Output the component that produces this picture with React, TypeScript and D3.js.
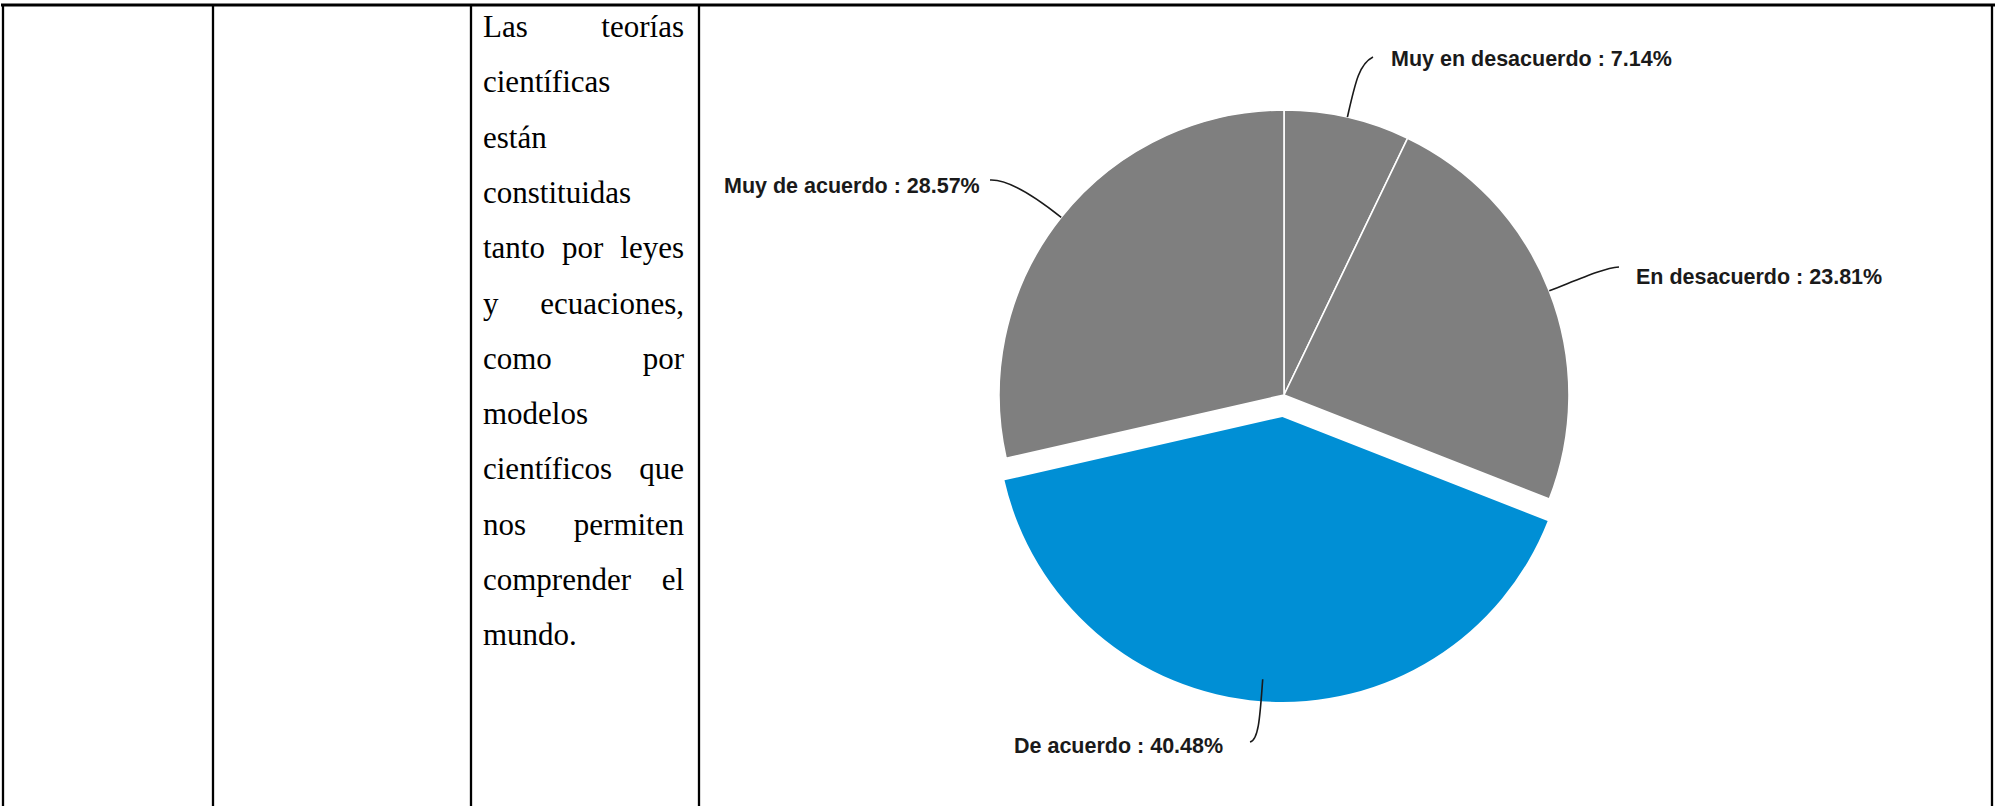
import React from 'react';
import * as d3 from 'd3';

// ---- data ----
const categories = ['Muy en desacuerdo', 'En desacuerdo', 'De acuerdo', 'Muy de acuerdo'];
const percentages = [7.14, 23.81, 40.48, 28.57];
const sliceColors = ['#7f7f7f', '#7f7f7f', '#008fd5', '#7f7f7f'];
const explodedSlice = 'De acuerdo';

const statementLines = [
  'Las teorías',
  'científicas',
  'están',
  'constituidas',
  'tanto por leyes',
  'y ecuaciones,',
  'como por',
  'modelos',
  'científicos que',
  'nos permiten',
  'comprender el',
  'mundo.',
];
const justifiedLines = [true, false, false, false, true, true, true, false, true, true, true, false];

// ---- layout (positions for label annotations, not data) ----
const labelLayout = [
  { end: [1373, 57], ctrl: [1359, 64], tx: 1391, ty: 66, anchor: 'start' },
  { end: [1619, 267], ctrl: [1604, 268], tx: 1636, ty: 284, anchor: 'start' },
  { end: [1250, 742], ctrl: [1259, 740], tx: 1014, ty: 753, anchor: 'start' },
  { end: [990, 180], ctrl: [1008, 179], tx: 724, ty: 193, anchor: 'start' },
];

const tableVerticals = [3, 213, 471, 699, 1992];

function measure(text: string, font: string): number {
  const c = document.createElement('canvas');
  const ctx = c.getContext('2d');
  if (!ctx) return text.length * 14;
  ctx.font = font;
  return ctx.measureText(text).width;
}

export default function App() {
  const W = 1998;
  const H = 806;
  const cx = 1284;
  const cy = 395;
  const R = 285;
  const explode = 22;

  const pie = d3
    .pie<number>()
    .sort(null)
    .value((d) => d)
    .startAngle(0)
    .endAngle(2 * Math.PI);
  const arcs = pie(percentages);
  const arcGen = d3.arc<d3.PieArcDatum<number>>().innerRadius(0).outerRadius(R);

  // text column
  const colFontSize = 31;
  const colFont = `${colFontSize}px 'Liberation Serif'`;
  const colLeft = 483;
  const colRight = 684;
  const firstBaseline = 37;
  const lineStep = 55.3;

  const lineEls = statementLines.map((line, i) => {
    const y = firstBaseline + i * lineStep;
    const words = line.split(' ');
    if (!justifiedLines[i] || words.length < 2) {
      return (
        <text key={i} x={colLeft} y={y} fontFamily="'Liberation Serif', 'Times New Roman', serif" fontSize={colFontSize} fill="#000">
          {line}
        </text>
      );
    }
    const widths = words.map((w) => measure(w, colFont));
    const total = widths.reduce((a, b) => a + b, 0);
    const gap = (colRight - colLeft - total) / (words.length - 1);
    let x = colLeft;
    return (
      <g key={i}>
        {words.map((w, j) => {
          const el = (
            <text key={j} x={x} y={y} fontFamily="'Liberation Serif', 'Times New Roman', serif" fontSize={colFontSize} fill="#000">
              {w}
            </text>
          );
          x += widths[j] + gap;
          return el;
        })}
      </g>
    );
  });

  return (
    <svg
      width={W}
      height={H}
      viewBox={`0 0 ${W} ${H}`}
      style={{ position: 'absolute', left: 0, top: 0, display: 'block', background: '#fff' }}
    >
      {/* table grid */}
      <line x1={1} x2={1995} y1={5} y2={5} stroke="#000" strokeWidth={2.8} />
      {tableVerticals.map((x, i) => (
        <line key={i} x1={x} x2={x} y1={4} y2={H} stroke="#000" strokeWidth={2.3} />
      ))}

      {lineEls}

      {/* pie */}
      <g>
        {arcs.map((a, i) => {
          const mid = (a.startAngle + a.endAngle) / 2;
          const isExploded = categories[i] === explodedSlice;
          const dx = isExploded ? Math.sin(mid) * explode : 0;
          const dy = isExploded ? -Math.cos(mid) * explode : 0;
          return (
            <path
              key={i}
              d={arcGen(a) || ''}
              transform={`translate(${cx + dx},${cy + dy})`}
              fill={sliceColors[i]}
              stroke={isExploded ? 'none' : '#fff'}
              strokeWidth={1.6}
            />
          );
        })}
      </g>

      {/* leaders and labels */}
      {arcs.map((a, i) => {
        const mid = (a.startAngle + a.endAngle) / 2;
        const sx = Math.sin(mid);
        const sy = -Math.cos(mid);
        const p0 = [cx + R * sx, cy + R * sy];
        const p1 = [cx + (R + 35) * sx, cy + (R + 35) * sy];
        const L = labelLayout[i];
        const path = d3.path();
        path.moveTo(p0[0], p0[1]);
        path.bezierCurveTo(p1[0], p1[1], L.ctrl[0], L.ctrl[1], L.end[0], L.end[1]);
        return (
          <g key={i}>
            <path d={path.toString()} fill="none" stroke="#1a1a1a" strokeWidth={1.6} />
            <text
              x={L.tx}
              y={L.ty}
              textAnchor={L.anchor as any}
              fontFamily="'Liberation Sans', Arial, sans-serif"
              fontWeight="bold"
              fontSize={21.5}
              fill="#1a1a1a"
            >
              {`${categories[i]} : ${percentages[i].toFixed(2)}%`}
            </text>
          </g>
        );
      })}
    </svg>
  );
}
